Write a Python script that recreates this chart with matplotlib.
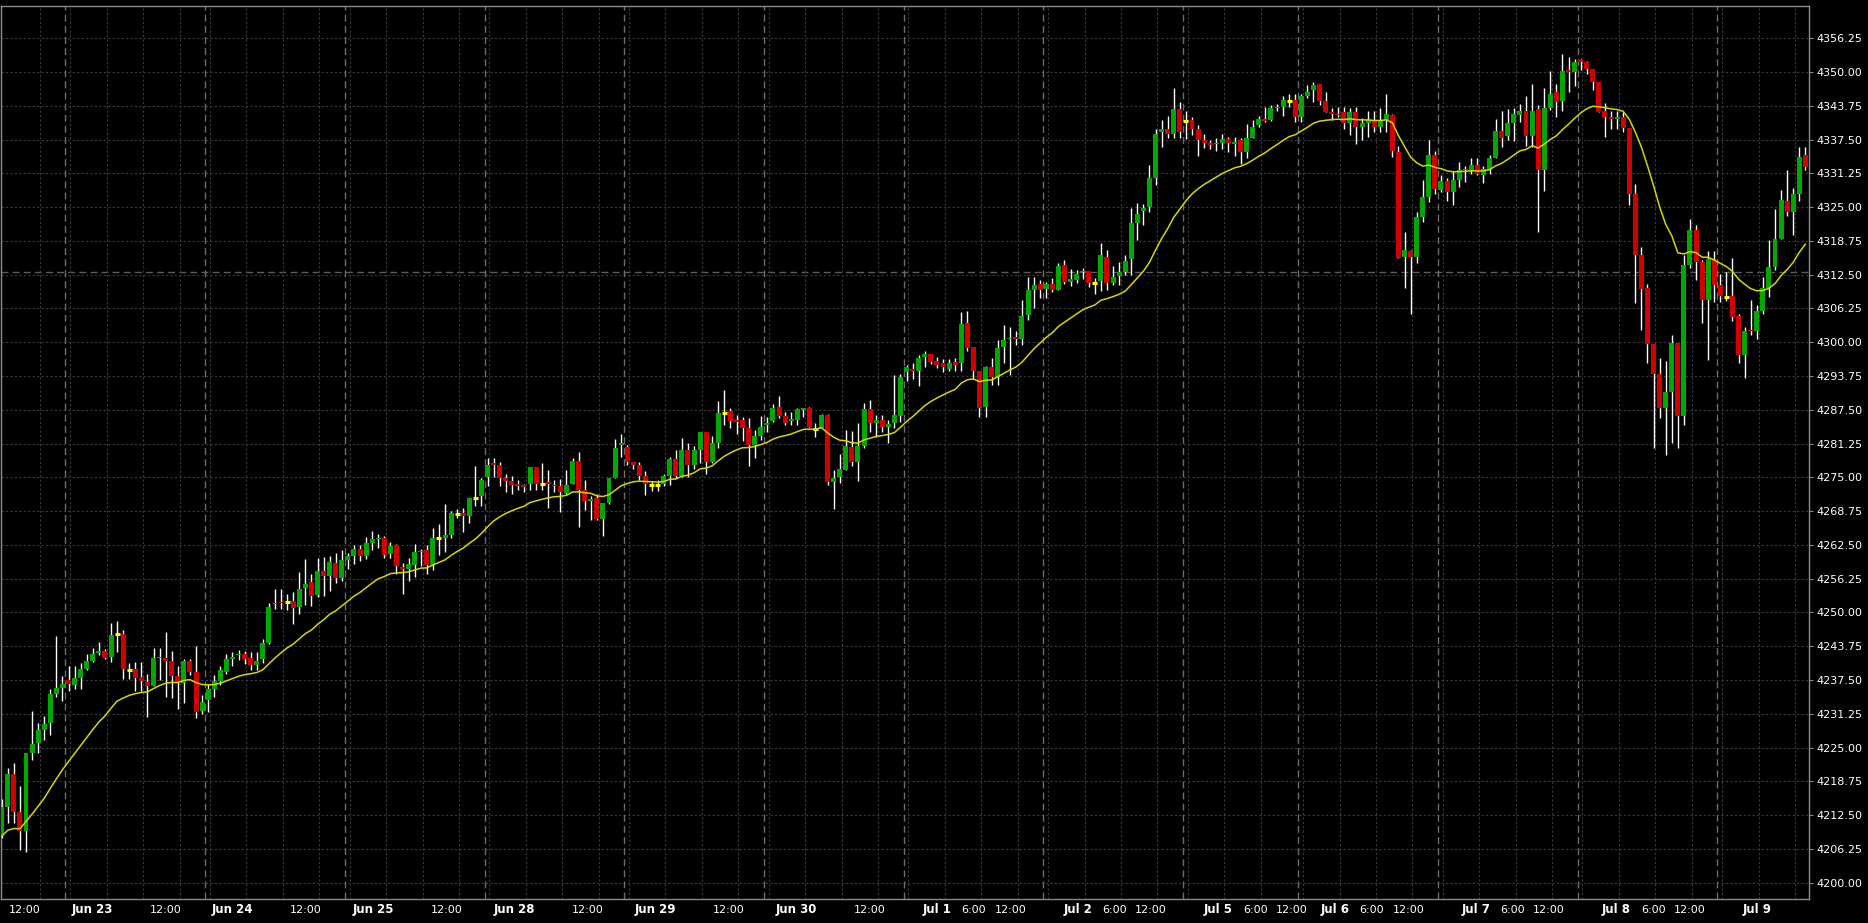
import matplotlib
matplotlib.use("Agg")
import matplotlib.pyplot as plt
import matplotlib.transforms as mtransforms

# sessions shown on the chart (hourly bars)
sessions = ["Jun 22", "Jun 23", "Jun 24", "Jun 25", "Jun 28", "Jun 29", "Jun 30",
            "Jul 1", "Jul 2", "Jul 5", "Jul 6", "Jul 7", "Jul 8", "Jul 9"]
first_hour = [12, 0, 0, 0, 0, 0, 0, 0, 0, 0, 0, 0, 0, 0]
bars_per_session = [11, 23, 23, 23, 23, 23, 23, 23, 23, 19, 23, 23, 23, 15]

time_labels = ["Jun 22 12:00", "Jun 23 12:00", "Jun 24 12:00", "Jun 25 12:00",
               "Jun 28 12:00", "Jun 29 12:00", "Jun 30 12:00",
               "Jul 1 6:00", "Jul 1 12:00", "Jul 2 6:00", "Jul 2 12:00",
               "Jul 5 6:00", "Jul 5 12:00", "Jul 6 6:00", "Jul 6 12:00",
               "Jul 7 6:00", "Jul 7 12:00", "Jul 8 6:00", "Jul 8 12:00"]

opens = [
    4208.8, 4214.0, 4220.1, 4213.1, 4209.6, 4224.0, 4225.8, 4228.2, 4229.5, 4234.9,
    4236.1, 4237.5, 4236.6, 4237.9, 4239.5, 4241.0, 4242.5, 4242.9, 4241.8, 4246.0,
    4246.0, 4239.4, 4239.5, 4238.1, 4237.1, 4236.4, 4241.5, 4241.5, 4241.1, 4238.2,
    4236.9, 4241.1, 4239.0, 4231.8, 4233.8, 4235.8, 4237.3, 4239.0, 4241.4, 4242.1,
    4242.4, 4241.6, 4240.2, 4241.4, 4244.3, 4251.5, 4252.0, 4251.9, 4252.1, 4251.0,
    4254.5, 4255.6, 4253.2, 4257.7, 4256.7, 4259.1, 4256.4, 4259.7, 4260.5, 4261.8,
    4260.4, 4262.8, 4263.6, 4263.8, 4260.8, 4262.4, 4258.4, 4258.0, 4258.8, 4261.1,
    4261.6, 4258.7, 4263.7, 4263.7, 4264.3, 4268.3, 4268.4, 4267.9, 4271.1, 4271.5,
    4275.1, 4277.6, 4277.3, 4274.9, 4274.3, 4273.8, 4273.6, 4273.7, 4276.9, 4273.7,
    4274.1, 4273.5, 4273.3, 4272.1, 4273.8, 4278.0, 4272.7, 4270.6, 4271.1, 4267.2,
    4270.3, 4274.9, 4281.0, 4280.6, 4277.9, 4277.3, 4275.2, 4273.6, 4273.6, 4273.8,
    4275.2, 4278.4, 4275.2, 4280.1, 4277.3, 4280.0, 4283.4, 4277.9, 4281.4, 4286.9,
    4287.2, 4285.6, 4285.6, 4284.1, 4280.9, 4282.6, 4284.7, 4285.4, 4288.1, 4286.4,
    4285.4, 4285.6, 4287.4, 4287.8, 4284.0, 4284.1, 4286.5, 4274.2, 4275.0, 4276.4,
    4280.7, 4277.9, 4280.8, 4287.6, 4285.1, 4285.6, 4284.4, 4285.0, 4286.4, 4294.4,
    4295.0, 4294.7, 4297.2, 4297.8, 4296.5, 4296.1, 4295.0, 4296.3, 4296.1, 4303.6,
    4299.1, 4294.7, 4288.1, 4295.4, 4293.6, 4299.2, 4300.5, 4301.0, 4300.6, 4305.0,
    4309.6, 4310.8, 4309.8, 4310.8, 4309.7, 4314.3, 4311.2, 4311.5, 4313.0, 4313.2,
    4311.0, 4311.3, 4315.8, 4310.9, 4312.2, 4312.9, 4315.4, 4322.1, 4324.3, 4325.1,
    4330.4, 4338.9, 4339.4, 4338.5, 4343.1, 4340.9, 4341.1, 4339.4, 4337.4, 4336.8,
    4336.6, 4336.8, 4337.6, 4336.7, 4337.4, 4335.2, 4337.8, 4340.2, 4341.3, 4341.1,
    4343.4, 4343.6, 4344.6, 4344.8, 4341.7, 4345.6, 4346.7, 4347.8, 4344.7, 4342.6,
    4342.3, 4342.5, 4340.6, 4342.6, 4339.9, 4340.5, 4341.2, 4339.9, 4341.1, 4342.0,
    4335.1, 4315.8, 4316.9, 4315.8, 4323.2, 4326.9, 4334.6, 4328.2, 4329.8, 4327.8,
    4330.0, 4331.8, 4331.9, 4332.8, 4331.0, 4331.9, 4334.1, 4339.0, 4338.1, 4340.6,
    4342.1, 4342.8, 4338.2, 4343.1, 4331.9, 4343.3, 4346.2, 4344.7, 4350.4, 4349.9,
    4352.3, 4351.8, 4350.5, 4348.1, 4342.8, 4341.7, 4341.3, 4341.7, 4339.7, 4327.5,
    4316.1, 4310.0, 4299.7, 4294.2, 4287.9, 4290.7, 4299.9, 4286.4, 4314.3, 4320.8,
    4314.9, 4307.8, 4315.2, 4310.5, 4308.4, 4308.6, 4304.8, 4297.7, 4302.3, 4302.1,
    4305.7, 4310.0, 4313.9, 4319.1, 4326.1, 4324.0, 4327.4, 4334.6,
]
highs = [
    4215.5, 4221.3, 4222.2, 4217.9, 4224.0, 4231.8, 4229.5, 4230.8, 4235.9, 4245.6,
    4238.2, 4240.0, 4240.1, 4240.6, 4242.4, 4243.5, 4244.5, 4243.2, 4248.0, 4248.4,
    4246.7, 4240.7, 4240.9, 4240.8, 4238.7, 4243.5, 4243.5, 4246.4, 4242.9, 4240.1,
    4241.3, 4241.3, 4243.8, 4234.8, 4236.8, 4238.4, 4240.1, 4242.4, 4242.6, 4243.0,
    4242.9, 4242.6, 4242.6, 4245.1, 4251.7, 4254.3, 4254.3, 4253.5, 4253.8, 4257.4,
    4259.8, 4257.2, 4260.0, 4260.2, 4260.5, 4261.0, 4261.5, 4261.0, 4262.5, 4262.5,
    4264.0, 4265.0, 4264.5, 4264.2, 4263.1, 4262.7, 4259.1, 4260.0, 4262.7, 4261.7,
    4262.4, 4265.6, 4266.4, 4270.1, 4268.7, 4269.1, 4269.3, 4271.2, 4277.0, 4274.9,
    4278.5, 4278.5, 4277.9, 4275.6, 4275.2, 4274.5, 4273.7, 4276.9, 4276.9, 4277.7,
    4276.4, 4274.5, 4274.6, 4276.4, 4278.5, 4279.6, 4274.5, 4271.6, 4272.0, 4270.3,
    4274.9, 4282.0, 4283.1, 4281.0, 4277.9, 4277.9, 4276.2, 4274.4, 4274.5, 4275.7,
    4278.8, 4280.1, 4282.2, 4281.4, 4280.8, 4283.4, 4283.4, 4282.6, 4289.1, 4291.1,
    4287.8, 4286.5, 4286.1, 4285.9, 4283.8, 4286.3, 4286.2, 4288.6, 4290.1, 4287.1,
    4287.0, 4287.8, 4287.8, 4288.1, 4285.0, 4286.8, 4286.8, 4276.4, 4279.3, 4283.8,
    4283.5, 4285.1, 4288.8, 4289.3, 4286.5, 4286.5, 4285.6, 4293.9, 4294.2, 4295.8,
    4296.1, 4297.6, 4298.4, 4297.8, 4297.2, 4296.8, 4296.9, 4297.0, 4305.5, 4305.8,
    4299.1, 4294.7, 4295.6, 4297.0, 4300.4, 4303.2, 4302.8, 4302.1, 4307.8, 4312.1,
    4312.0, 4311.5, 4311.2, 4311.8, 4314.7, 4315.2, 4313.5, 4313.4, 4313.8, 4313.2,
    4311.8, 4318.4, 4317.1, 4314.1, 4314.9, 4316.1, 4324.9, 4325.8, 4325.6, 4332.8,
    4339.4, 4341.1, 4341.8, 4347.0, 4344.4, 4342.8, 4341.7, 4340.2, 4338.5, 4337.5,
    4337.7, 4338.5, 4338.0, 4338.0, 4337.7, 4340.4, 4341.2, 4341.9, 4343.6, 4343.9,
    4344.1, 4345.5, 4346.0, 4345.9, 4346.0, 4347.6, 4348.2, 4347.8, 4346.2, 4343.3,
    4343.6, 4343.6, 4343.3, 4343.6, 4341.4, 4342.7, 4342.8, 4343.3, 4345.9, 4342.3,
    4336.3, 4320.3, 4317.1, 4324.0, 4330.0, 4337.5, 4335.4, 4330.9, 4330.3, 4331.7,
    4333.3, 4332.6, 4334.0, 4334.0, 4332.6, 4334.6, 4341.3, 4342.8, 4343.1, 4343.3,
    4344.0, 4345.5, 4347.8, 4343.9, 4347.0, 4350.2, 4347.8, 4353.3, 4352.8, 4352.4,
    4352.4, 4352.1, 4350.5, 4348.1, 4344.2, 4342.7, 4342.7, 4342.5, 4339.7, 4329.3,
    4317.7, 4310.8, 4299.7, 4297.0, 4296.6, 4301.3, 4299.9, 4316.1, 4322.7, 4321.7,
    4315.2, 4316.8, 4316.8, 4312.6, 4312.9, 4315.6, 4305.3, 4302.8, 4307.8, 4306.9,
    4312.0, 4318.9, 4324.6, 4328.2, 4331.9, 4328.5, 4336.2, 4336.2,
]
lows = [
    4208.2, 4211.0, 4211.0, 4206.0, 4205.7, 4222.7, 4223.9, 4226.4, 4227.3, 4234.4,
    4233.7, 4235.5, 4235.9, 4235.8, 4239.3, 4240.8, 4242.2, 4241.3, 4240.9, 4242.7,
    4237.7, 4237.7, 4235.5, 4235.5, 4230.7, 4236.3, 4237.5, 4234.3, 4234.2, 4232.1,
    4233.3, 4238.5, 4230.5, 4231.3, 4231.6, 4234.3, 4236.6, 4238.7, 4240.0, 4241.2,
    4240.5, 4239.3, 4239.3, 4240.6, 4244.2, 4250.6, 4250.6, 4250.5, 4247.9, 4249.8,
    4251.3, 4251.2, 4252.9, 4253.0, 4254.0, 4255.5, 4255.8, 4258.0, 4259.0, 4259.5,
    4259.8, 4261.5, 4262.0, 4260.0, 4260.0, 4257.1, 4253.5, 4255.9, 4256.6, 4258.5,
    4257.1, 4257.9, 4260.7, 4261.2, 4263.7, 4267.5, 4264.8, 4266.5, 4269.7, 4269.7,
    4273.3, 4275.0, 4273.3, 4272.2, 4272.0, 4272.7, 4272.3, 4272.7, 4272.7, 4272.7,
    4269.3, 4272.2, 4268.5, 4271.9, 4273.8, 4265.8, 4269.0, 4267.1, 4267.1, 4264.2,
    4270.1, 4274.9, 4278.8, 4277.3, 4276.5, 4274.5, 4271.7, 4272.5, 4272.5, 4273.3,
    4273.6, 4274.8, 4275.0, 4275.1, 4276.5, 4277.6, 4275.7, 4277.6, 4280.5, 4284.7,
    4284.1, 4283.0, 4281.7, 4277.0, 4278.5, 4281.9, 4283.4, 4285.3, 4285.9, 4284.7,
    4284.7, 4284.7, 4286.2, 4284.4, 4282.5, 4284.1, 4273.6, 4269.2, 4273.9, 4276.3,
    4277.0, 4274.4, 4280.5, 4283.4, 4282.5, 4283.3, 4281.3, 4284.1, 4285.3, 4292.9,
    4293.1, 4291.9, 4295.5, 4295.9, 4295.3, 4294.4, 4294.6, 4294.7, 4294.7, 4298.4,
    4293.1, 4286.1, 4286.2, 4292.0, 4292.0, 4296.2, 4293.9, 4299.5, 4299.5, 4304.1,
    4306.3, 4308.1, 4308.1, 4309.2, 4309.7, 4310.8, 4310.4, 4311.0, 4311.7, 4310.3,
    4309.0, 4309.5, 4309.7, 4310.6, 4310.6, 4312.4, 4312.4, 4318.9, 4321.7, 4324.0,
    4329.1, 4336.2, 4337.7, 4337.7, 4337.7, 4337.6, 4338.3, 4334.5, 4336.0, 4335.7,
    4335.4, 4335.7, 4335.2, 4334.4, 4333.0, 4334.0, 4337.7, 4339.9, 4340.8, 4341.0,
    4342.7, 4341.8, 4343.6, 4340.8, 4340.8, 4345.1, 4344.5, 4343.9, 4342.5, 4341.2,
    4341.6, 4339.4, 4338.3, 4336.7, 4337.5, 4338.0, 4338.9, 4338.8, 4338.8, 4334.2,
    4315.6, 4310.0, 4305.3, 4314.6, 4322.3, 4326.0, 4327.4, 4327.7, 4326.1, 4325.3,
    4328.8, 4329.7, 4331.1, 4331.0, 4329.4, 4331.2, 4334.1, 4336.2, 4337.4, 4337.3,
    4340.8, 4336.3, 4336.2, 4320.3, 4328.0, 4343.0, 4341.6, 4342.7, 4346.2, 4347.4,
    4350.4, 4349.7, 4346.7, 4342.5, 4338.0, 4339.4, 4339.4, 4338.9, 4325.4, 4307.2,
    4302.3, 4296.2, 4280.4, 4286.0, 4279.2, 4281.4, 4280.4, 4284.7, 4313.8, 4311.5,
    4303.5, 4296.7, 4307.5, 4307.5, 4307.7, 4304.0, 4296.2, 4293.3, 4301.3, 4300.5,
    4305.3, 4308.3, 4313.4, 4319.1, 4323.4, 4319.8, 4326.2, 4331.9,
]
closes = [
    4214.0, 4220.1, 4213.1, 4209.6, 4224.0, 4225.7, 4228.2, 4229.4, 4234.9, 4236.0,
    4236.8, 4236.8, 4237.9, 4239.5, 4241.0, 4242.4, 4242.9, 4241.6, 4245.8, 4246.0,
    4239.6, 4239.4, 4237.9, 4237.4, 4236.4, 4241.6, 4241.8, 4241.1, 4238.3, 4236.9,
    4241.1, 4239.0, 4231.6, 4233.5, 4235.8, 4237.3, 4239.3, 4241.4, 4241.7, 4242.4,
    4241.4, 4240.2, 4241.0, 4244.3, 4251.0, 4251.7, 4251.8, 4251.9, 4250.9, 4254.3,
    4255.3, 4253.0, 4257.7, 4256.8, 4259.3, 4256.4, 4259.7, 4260.5, 4261.8, 4260.4,
    4262.8, 4263.6, 4263.8, 4260.6, 4262.2, 4258.5, 4258.0, 4258.9, 4261.1, 4261.4,
    4258.7, 4263.8, 4263.7, 4264.3, 4268.4, 4268.3, 4267.9, 4271.2, 4271.1, 4274.5,
    4277.3, 4277.2, 4274.9, 4274.4, 4273.6, 4273.4, 4273.2, 4276.9, 4273.7, 4273.7,
    4273.7, 4273.3, 4272.2, 4273.5, 4278.0, 4272.7, 4270.6, 4270.9, 4267.2, 4270.3,
    4274.9, 4280.4, 4281.3, 4277.9, 4277.3, 4275.2, 4273.8, 4273.6, 4273.6, 4275.2,
    4278.4, 4275.2, 4280.1, 4277.3, 4280.1, 4283.4, 4277.9, 4281.4, 4286.9, 4286.9,
    4285.4, 4285.3, 4284.2, 4280.9, 4282.6, 4284.3, 4285.1, 4287.9, 4286.4, 4285.1,
    4285.8, 4287.6, 4287.8, 4284.4, 4284.0, 4286.5, 4274.2, 4274.8, 4276.6, 4280.8,
    4277.9, 4280.8, 4287.6, 4285.1, 4285.6, 4284.4, 4284.9, 4286.5, 4293.6, 4295.4,
    4294.7, 4297.1, 4297.8, 4296.4, 4295.8, 4295.5, 4296.1, 4295.8, 4303.4, 4299.0,
    4294.7, 4287.9, 4295.4, 4293.6, 4298.9, 4300.4, 4300.8, 4300.6, 4304.8, 4309.6,
    4310.6, 4309.7, 4310.8, 4309.7, 4314.1, 4311.2, 4311.6, 4312.6, 4313.2, 4310.9,
    4311.0, 4316.1, 4310.9, 4312.0, 4312.9, 4315.0, 4322.1, 4323.8, 4324.9, 4330.4,
    4338.5, 4339.4, 4338.5, 4343.1, 4338.9, 4340.9, 4339.4, 4337.4, 4336.9, 4336.4,
    4336.9, 4337.6, 4336.8, 4337.0, 4335.2, 4337.8, 4339.8, 4341.3, 4341.0, 4343.4,
    4343.5, 4344.8, 4344.6, 4341.7, 4345.5, 4346.3, 4347.6, 4344.7, 4342.5, 4342.3,
    4342.1, 4340.5, 4342.6, 4339.9, 4340.5, 4341.2, 4339.9, 4341.1, 4342.3, 4335.4,
    4315.6, 4317.0, 4315.8, 4323.1, 4326.8, 4334.6, 4328.3, 4329.8, 4327.8, 4330.0,
    4331.8, 4332.0, 4332.8, 4331.2, 4332.0, 4334.1, 4339.1, 4337.8, 4340.6, 4342.3,
    4342.8, 4338.2, 4342.8, 4331.9, 4343.3, 4345.9, 4344.5, 4350.2, 4349.9, 4351.8,
    4351.9, 4350.5, 4348.1, 4342.6, 4341.7, 4341.3, 4341.7, 4339.7, 4327.4, 4316.1,
    4309.9, 4299.7, 4294.2, 4287.9, 4290.7, 4299.9, 4286.4, 4314.3, 4320.8, 4314.9,
    4307.8, 4315.4, 4310.5, 4308.6, 4308.4, 4304.7, 4297.7, 4302.1, 4302.0, 4305.8,
    4310.0, 4313.9, 4319.1, 4326.3, 4324.1, 4327.4, 4334.3, 4332.5,
]

ma_period = 20
ma_start = 4208.6          # indicator value at the first visible bar
marker_price = 4313.0      # horizontal dashed line
price_ticks = [4200 + 6.25 * k for k in range(26)]

# ---- bar timeline
bar_session, bar_hour = [], []
for s, (h0, n) in enumerate(zip(first_hour, bars_per_session)):
    for j in range(n):
        bar_session.append(s)
        bar_hour.append(h0 + j)
idx = list(range(len(closes)))

# exponential moving average of the closes
alpha = 2.0 / (ma_period + 1)
ma = [ma_start]
for c in closes[1:]:
    ma.append(ma[-1] + alpha * (c - ma[-1]))

W, H = 1868, 923
fig = plt.figure(figsize=(W / 100, H / 100), dpi=100, facecolor="black")
ax = fig.add_axes([0.5 / W, 1 - 899 / H, 1808.5 / W, 893 / H])
ax.set_facecolor("black")
ax.set_xlim(-0.2, len(closes) - 0.4)
ax.set_ylim(4196.98, 4362.2)

# grid
for p in price_ticks:
    ax.axhline(p, color="#3a3a3a", lw=0.8, ls=(0, (2, 2)), zorder=0)
ax.axhline(marker_price, color="#5c5c5c", lw=1.0, ls=(0, (5, 3)), zorder=0)

for i in idx:
    s, h = bar_session[i], bar_hour[i]
    if h == first_hour[s] and s > 0:
        ax.axvline(i - 0.5, color="#6c6c6c", lw=1.0, ls=(0, (5, 3)), zorder=0)
    if h % 6 == 0 and i > 0:
        nxt = i + 1 < len(idx) and bar_session[i + 1] != s
        if not nxt:
            ax.axvline(i + 0.3, color="#3a3a3a", lw=0.8, ls=(0, (2, 2)), zorder=0)

# candles
ax.vlines(idx, lows, highs, color="white", lw=1.0, zorder=2)
body_col = []
for o, c in zip(opens, closes):
    body_col.append("#00a800" if c > o else "#d40000")
up_dn = [i for i in idx if opens[i] != closes[i]]
ax.bar([idx[i] for i in up_dn],
       [closes[i] - opens[i] for i in up_dn],
       bottom=[opens[i] for i in up_dn],
       width=0.82, color=[body_col[i] for i in up_dn], lw=0, zorder=3)
doji = [i for i in idx if opens[i] == closes[i]]
ax.hlines([closes[i] for i in doji], [i - 0.41 for i in doji], [i + 0.41 for i in doji],
          color="#ffff00", lw=2.2, zorder=3)

ax.plot(idx, ma, color="#d6d600", lw=1.1, zorder=4)

# axes styling
for sp in ax.spines.values():
    sp.set_color("#8c8c8c")
    sp.set_linewidth(1.0)
ax.set_xticks([])
ax.yaxis.tick_right()
ax.set_yticks(price_ticks)
ax.set_yticklabels([f"{p:.2f}" for p in price_ticks])
ax.tick_params(axis="y", colors="#8c8c8c", labelcolor="white", length=3,
               width=0.8, pad=2, labelsize=8)

# time axis labels
trans = mtransforms.blended_transform_factory(ax.transData, fig.transFigure)
ylab = 1 - 910 / H


def label_x(i):
    # labels sit a little right of their hour line, drifting slightly
    return i + 0.3 + 3.55 + 0.0082 * (i - 11)


for s in range(1, len(sessions)):
    i = next(k for k in idx if bar_session[k] == s and bar_hour[k] == 0)
    ax.text(label_x(i), ylab, sessions[s], transform=trans, color="white",
            fontsize=8.5, fontweight="bold", ha="center", va="center")
for tl in time_labels:
    day, hm = tl.rsplit(" ", 1)
    s = sessions.index(day)
    hh = int(hm.split(":")[0])
    i = next(k for k in idx if bar_session[k] == s and bar_hour[k] == hh)
    ax.text(label_x(i), ylab, hm, transform=trans, color="white",
            fontsize=8, ha="center", va="center")

fig.savefig("out.png", dpi=100, facecolor="black")
